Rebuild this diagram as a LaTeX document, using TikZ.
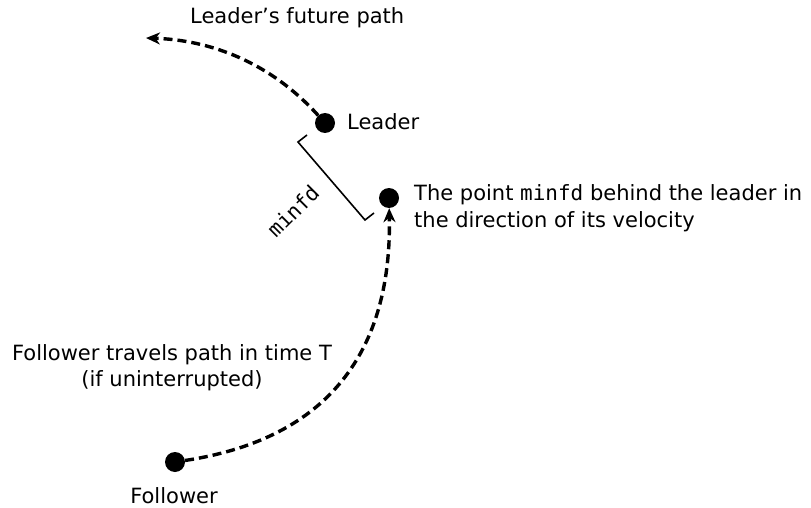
\documentclass[tikz,border=0pt]{standalone}
\usepackage{fontspec}
\setmainfont{DejaVu Sans}
\setmonofont{DejaVu Sans Mono}
\usetikzlibrary{arrows.meta,calc}
\begin{document}
\begin{tikzpicture}[x=1pt,y=-1pt,
  dot/.style={circle,fill=black,inner sep=0pt,minimum size=20pt},
  lbl/.style={font=\fontsize{21}{26}\selectfont,inner sep=0pt},
  motion/.style={line width=3.4pt,dash pattern=on 9pt off 5pt,
    -{Stealth[length=14pt,width=12pt,inset=4.5pt]}}]
  \useasboundingbox (0,0) rectangle (811,508);

  % agents
  \node[dot] (leader) at (325,123) {};
  \node[dot] (target) at (389,198) {};
  \node[dot] (follower) at (175,462) {};
  \coordinate (future) at (146,38);

  % paths
  \draw[motion] (leader) .. controls (270,62) and (210,40) .. (future);
  \draw[motion] (follower) .. controls (320,440) and (392,360) .. (target);

  % distance bracket
  \coordinate (bt) at (298,142);
  \coordinate (bb) at (365,220);
  \draw[line width=1.6pt,line join=miter] ($(bt)+(9,-7)$) -- (bt) -- (bb) -- ($(bb)+(9,-7)$);
  \node[lbl,font=\fontsize{21}{26}\selectfont\ttfamily,rotate=45] (mlabel) at (293,211) {minfd};

  % labels
  \node[lbl,anchor=west] (tfut) at (190,18) {Leader’s future path};
  \node[lbl,anchor=west] (tlead) at (347,122) {Leader};
  \node[lbl,anchor=west,align=left,font=\fontsize{21}{27}\selectfont] (ttarget) at (414,208)
    {The point \texttt{minfd} behind the leader in\\the direction of its velocity};
  \node[lbl,align=center] (tfollow) at (172,368)
    {Follower travels path in time T\\(if uninterrupted)};
  \node[lbl] (tfol) at (174,496) {Follower};
\end{tikzpicture}
\end{document}
